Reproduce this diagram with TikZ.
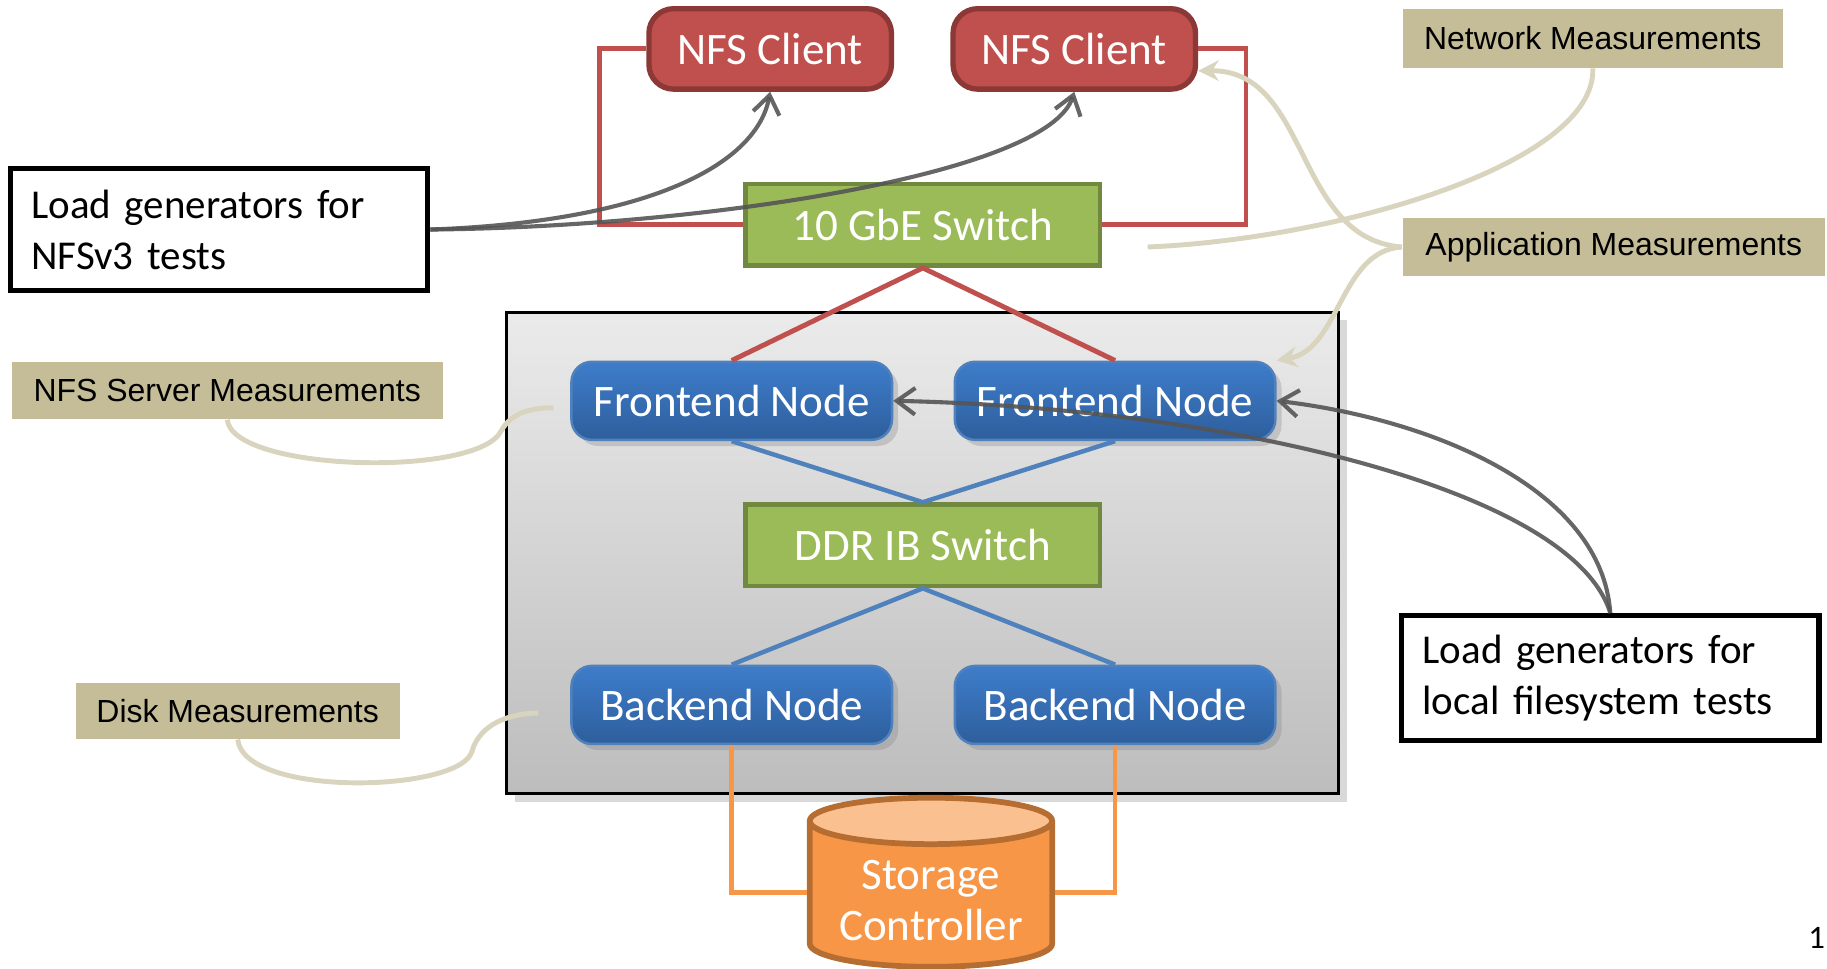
\documentclass[tikz,border=0pt]{standalone}
\usepackage{fontspec}
\setmainfont{Carlito}
\newfontfamily\tagfont{Liberation Sans}
\usetikzlibrary{shapes.geometric,shadows,arrows.meta}

\definecolor{clientred}{HTML}{C0504D}
\definecolor{clientedge}{HTML}{8C3836}
\definecolor{switchgreen}{HTML}{9BBB59}
\definecolor{switchedge}{HTML}{71893F}
\definecolor{nodetop}{HTML}{3E7DCB}
\definecolor{nodebot}{HTML}{2E5E9C}
\definecolor{linkblue}{HTML}{4F81BD}
\definecolor{storeorange}{HTML}{F79646}
\definecolor{storetop}{HTML}{FAC08F}
\definecolor{storeedge}{HTML}{B66D31}
\definecolor{tagtan}{HTML}{C4BD97}
\definecolor{calloutline}{HTML}{D8D4BE}
\definecolor{loadgray}{HTML}{555555}

\tikzset{
  boxtext/.style={text=white, font=\fontsize{11}{13}\selectfont},
  client/.style={rectangle, rounded corners=6pt, fill=clientred, draw=clientedge,
    line width=1.3pt, minimum width=2.08cm, minimum height=0.69cm, boxtext},
  switchbox/.style={rectangle, fill=switchgreen, draw=switchedge, line width=1.1pt,
    minimum width=3.04cm, minimum height=0.70cm, boxtext},
  server/.style={rectangle, rounded corners=5pt, top color=nodetop, bottom color=nodebot,
    draw=linkblue, line width=0.6pt, minimum width=2.75cm, minimum height=0.67cm,
    drop shadow={shadow xshift=1.5pt, shadow yshift=-1.5pt, opacity=0.3}, boxtext},
  storage/.style={cylinder, shape border rotate=90, aspect=0.22,
    minimum width=2.08cm, minimum height=1.25cm, cylinder uses custom fill,
    cylinder body fill=storeorange, cylinder end fill=storetop, draw=storeedge,
    line width=1.4pt, align=center, boxtext, font=\fontsize{11}{12.3}\selectfont},
  tag/.style={rectangle, fill=tagtan, inner sep=0pt, font=\tagfont\fontsize{7.8}{9}\selectfont},
  loadbox/.style={rectangle, draw=black, line width=1.3pt, fill=white, align=left,
    inner xsep=0.18cm, text width=3.22cm, font=\fontsize{10}{12.4}\selectfont},
  redlink/.style={clientred, line width=1.2pt},
  bluelink/.style={linkblue, line width=1.1pt},
  orangelink/.style={storeorange, line width=1.1pt},
  loadarrow/.style={loadgray, line width=1pt, opacity=0.9,
    -{Straight Barb[length=4.5pt, width=6.5pt]}},
  callout/.style={calloutline, line width=1.2pt},
  calloutarrow/.style={callout, -{Stealth[length=5pt, width=5pt]}},
}

\begin{document}
\begin{tikzpicture}[x=0.01cm, y=-0.01cm]
  \useasboundingbox (0,0) rectangle (1568,831);

  % server cabinet
  \draw[black, line width=0.8pt, top color=black!8, bottom color=black!26,
    drop shadow={shadow xshift=2pt, shadow yshift=-2pt, opacity=0.3}]
    (435,268) rectangle (1149,681);

  \node[client] (nfsa) at (661,42) {NFS Client};
  \node[client] (nfsb) at (922,42) {NFS Client};
  \node[switchbox] (gbe) at (792,193) {10 GbE Switch};
  \node[server] (feA) at (628,344) {Frontend Node};
  \node[server] (feB) at (957,344) {Frontend Node};
  \node[switchbox] (ddr) at (792,468) {DDR IB Switch};
  \node[server] (beA) at (628,605) {Backend Node};
  \node[server] (beB) at (957,605) {Backend Node};
  \node[storage] (store) at (799,773) {Storage\\Controller};

  \begin{scope}
    \draw[redlink] (nfsa.west) -- ++(-40,0) |- (gbe.west);
    \draw[redlink] (nfsb.east) -- ++(41,0) |- (gbe.east);
    \draw[redlink] (feA.north) -- (gbe.south) -- (feB.north);
    \draw[bluelink] (feA.south) -- (ddr.north) -- (feB.south);
    \draw[bluelink] (beA.north) -- (ddr.south) -- (beB.north);
    \draw[orangelink] (beA.south) |- ([yshift=2pt]store.west);
    \draw[orangelink] (beB.south) |- ([yshift=2pt]store.east);
  \end{scope}

  % measurement tags
  \node[tag, minimum width=3.26cm, minimum height=0.50cm] (nettag) at (1367,33) {Network Measurements};
  \node[tag, minimum width=3.62cm, minimum height=0.50cm] (apptag) at (1385,212) {Application Measurements};
  \node[tag, minimum width=3.70cm, minimum height=0.49cm] (srvtag) at (195,335) {NFS Server Measurements};
  \node[tag, minimum width=2.78cm, minimum height=0.48cm] (disktag) at (204,610) {Disk Measurements};

  \coordinate (netend) at (985,212);
  \coordinate (srvend) at (475,350);
  \coordinate (diskend) at (462,612);

  \draw[callout] (nettag.south) .. controls (1370,140) and (1150,205) .. (netend);
  \draw[calloutarrow] (apptag.west) .. controls (1110,205) and (1125,60) .. (nfsb.-10);
  \draw[calloutarrow] (apptag.west) .. controls (1150,215) and (1150,300) .. (feB.north east);
  \draw[callout] (srvtag.south) .. controls (200,405) and (410,410) .. (430,370)
    .. controls (440,352) and (460,350) .. (srvend);
  \draw[callout] (disktag.south) .. controls (210,685) and (395,680) .. (405,645)
    .. controls (412,620) and (440,612) .. (diskend);

  % load generators
  \node[loadbox, minimum height=1.05cm] (nfsload) at (188,197) {Load generators for\\NFSv3 tests};
  \node[loadbox, minimum height=1.07cm] (localload) at (1382,582) {Load generators for\\local filesystem tests};

  \draw[loadarrow] (nfsload.east) .. controls (560,190) and (650,140) .. (nfsa.south);
  \draw[loadarrow] (nfsload.east) .. controls (600,195) and (900,150) .. (nfsb.south);
  \draw[loadarrow] (localload.north) .. controls (1375,420) and (1230,360) .. (feB.east);
  \draw[loadarrow] (localload.north) .. controls (1350,420) and (1050,350) .. (feA.east);

  \node[anchor=east, font=\fontsize{8}{9}\selectfont, inner sep=0pt] (slideno) at (1567,805) {1};
\end{tikzpicture}
\end{document}
